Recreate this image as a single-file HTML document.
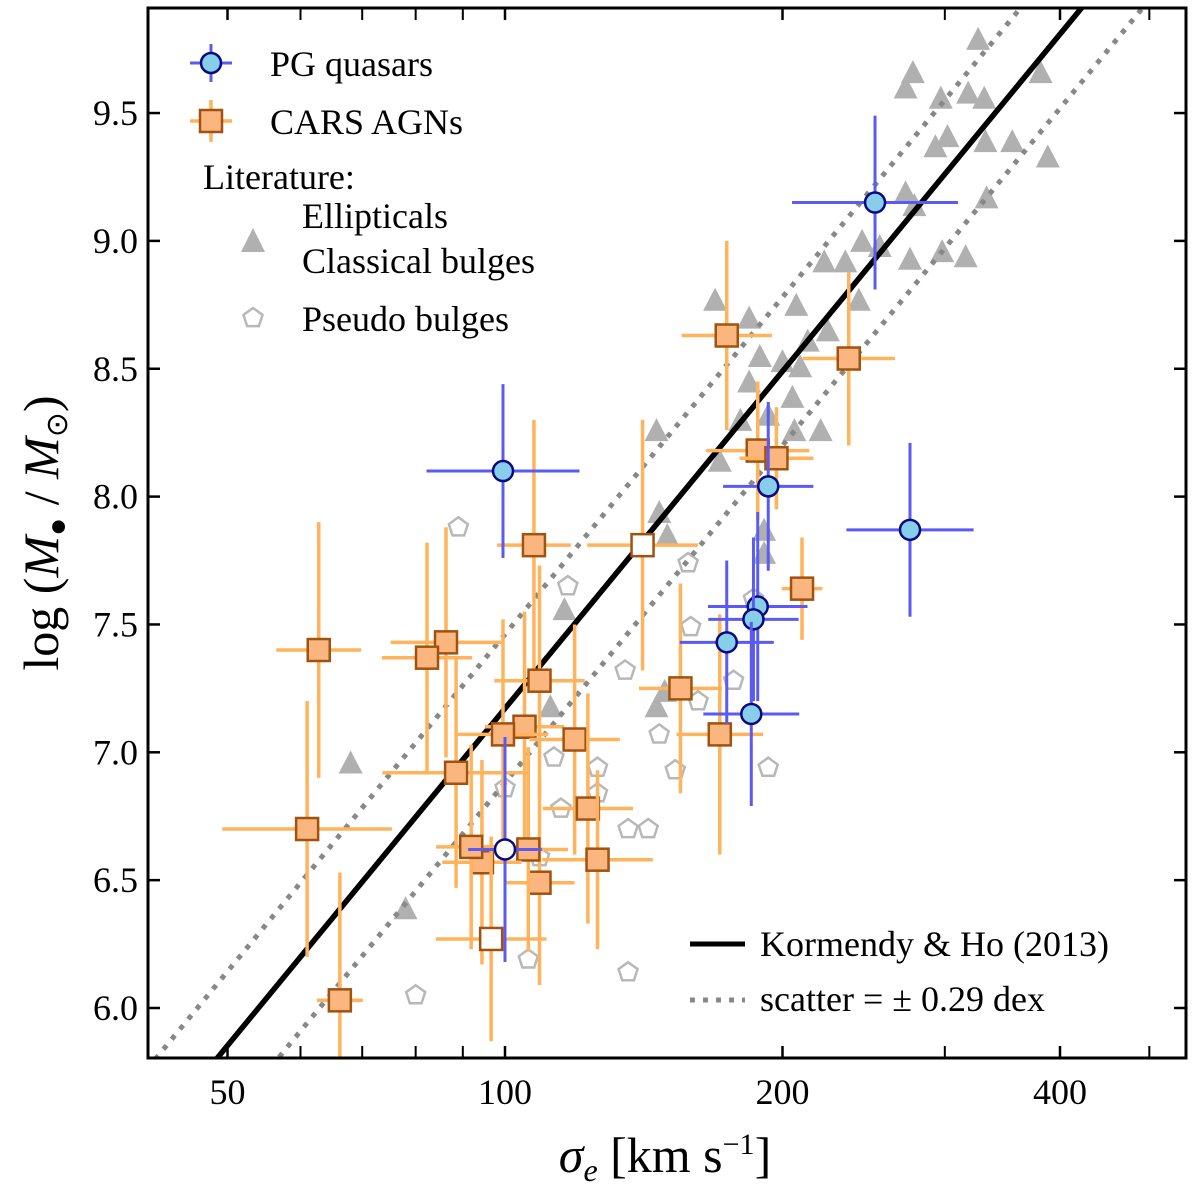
<!DOCTYPE html>
<html><head><meta charset="utf-8"><style>
html,body{margin:0;padding:0;background:#fff;width:1200px;height:1196px;overflow:hidden;}
svg{display:block;overflow:hidden;font-family:"Liberation Serif",serif;}
</style></head><body>
<svg id="chart" width="1200" height="1196" viewBox="0 0 1200 1196" xmlns="http://www.w3.org/2000/svg">
<defs><clipPath id="clip"><rect x="148" y="8" width="1038" height="1050"/></clipPath></defs>
<g id="lit" clip-path="url(#clip)"></g>
<g id="lines" clip-path="url(#clip)"></g>
<g id="cars" clip-path="url(#clip)"></g>
<g id="pg" clip-path="url(#clip)"></g>
<g id="axes"></g>
<rect x="148" y="8" width="1038" height="1050" fill="none" stroke="#000" stroke-width="3"/>

<g font-size="36">
  <g>
    <line x1="190" y1="63" x2="232" y2="63" stroke="#5a5af5" stroke-width="3"/>
    <line x1="211" y1="44" x2="211" y2="82" stroke="#5a5af5" stroke-width="3"/>
    <circle cx="211" cy="63" r="10" fill="#87ceeb" stroke="#0a0a80" stroke-width="2.5"/>
    <text x="270" y="76">PG quasars</text>
  </g>
  <g>
    <line x1="190" y1="121" x2="232" y2="121" stroke="#ffb35c" stroke-width="3.5"/>
    <line x1="211" y1="100" x2="211" y2="142" stroke="#ffb35c" stroke-width="3.5"/>
    <rect x="200" y="110" width="22" height="22" fill="#fbb680" stroke="#a0520f" stroke-width="2.5"/>
    <text x="270" y="134">CARS AGNs</text>
  </g>
  <text x="203" y="189">Literature:</text>
  <g>
    <polygon points="253,228 265,252 241,252" fill="#b0b0b0"/>
    <text x="302" y="228">Ellipticals</text>
    <text x="302" y="273">Classical bulges</text>
  </g>
  <g>
    <polygon id="legpent" fill="none" stroke="#b8b8b8" stroke-width="2.5"/>
    <text x="302" y="331">Pseudo bulges</text>
  </g>
</g>
<g font-size="36">
  <g>
    <line x1="690" y1="944" x2="745" y2="944" stroke="#000" stroke-width="5"/>
    <text x="760" y="956">Kormendy &amp; Ho (2013)</text>
  </g>
  <g>
    <line x1="690" y1="1000" x2="745" y2="1000" stroke="#888" stroke-width="5" stroke-dasharray="5,8"/>
    <text x="760" y="1011">scatter = ± 0.29 dex</text>
  </g>
</g>
<text transform="translate(58,533) rotate(-90)" text-anchor="middle" font-size="50">log (<tspan font-style="italic">M</tspan><tspan font-size="30" dy="9">●</tspan><tspan dy="-9"> / </tspan><tspan font-style="italic">M</tspan><tspan font-size="30" dy="9">⊙</tspan><tspan dy="-9">)</tspan></text>
<text x="665" y="1172" text-anchor="middle" font-size="50"><tspan font-style="italic">σ</tspan><tspan font-style="italic" font-size="32" dy="9">e</tspan><tspan dy="-9"> [km s</tspan><tspan font-size="30" dy="-18">−1</tspan><tspan dy="18">]</tspan></text>

<script>
// PG quasars
const pgSigma=[252,99.5,193,275,188,174,186,185,100];
const pgLogM=[9.15,8.10,8.04,7.87,7.57,7.43,7.52,7.15,6.62];
const pgSigErr=[0.09,0.083,0.049,0.069,0.054,0.051,0.049,0.052,0.04];
const pgMErr=[0.34,0.34,0.33,0.34,0.37,0.32,0.32,0.36,0.44];
const pgOpen=[0,0,0,0,0,0,0,0,1];
// CARS AGNs
const carsSigma=[174,236,188,197,210,107.5,141,155,171,109,105,119,99.5,123,126,109,106,94.4,91.9,96.6,88.5,86.3,82.3,62.8,61,66.2];
const carsLogM=[8.63,8.54,8.18,8.15,7.64,7.81,7.81,7.25,7.07,7.28,7.10,7.05,7.07,6.78,6.58,6.49,6.62,6.57,6.63,6.27,6.92,7.43,7.37,7.40,6.70,6.03];
const carsSigErr=[0.049,0.05,0.056,0.04,0.022,0.04,0.06,0.045,0.047,0.049,0.043,0.049,0.049,0.049,0.06,0.038,0.043,0.043,0.038,0.06,0.08,0.06,0.049,0.046,0.092,0.025];
const carsMErr=[0.37,0.34,0.27,0.2,0.2,0.49,0.49,0.41,0.47,0.45,0.45,0.45,0.45,0.45,0.35,0.4,0.4,0.4,0.4,0.4,0.45,0.45,0.45,0.5,0.5,0.5];
const carsOpen=[0,0,0,0,0,0,1,0,0,0,0,0,0,0,0,0,0,0,0,1,0,0,0,0,0,0];
// Literature ellipticals + classical bulges
const ellSigma=[326,277,272,297,318,331,381,388,293,302,332,355,272,278,333,275,298,316,222,234,244,255,242,207,224,213,200,209,189,184,169,184,180,205,206,220,193,171,191,191,147,150,146,116,112,146,149,68,78];
const ellLogM=[9.79,9.66,9.60,9.56,9.58,9.56,9.66,9.33,9.37,9.41,9.39,9.39,9.19,9.14,9.17,8.93,8.96,8.94,8.92,8.92,9.00,8.98,8.77,8.75,8.65,8.61,8.53,8.51,8.55,8.45,8.77,8.70,8.30,8.39,8.26,8.26,8.32,8.14,7.87,7.78,7.94,7.85,8.26,7.56,7.18,7.18,7.24,6.96,6.39];
// Literature pseudo bulges
const psSigma=[89,117,158,159,135,147,153,113,136,115,126,193,186,100,106,80,136,177,162,109,143,126];
const psLogM=[7.88,7.65,7.74,7.49,7.32,7.07,6.93,6.98,6.70,6.78,6.94,6.94,7.60,6.86,6.19,6.05,6.14,7.28,7.20,6.59,6.70,6.84];
// KH13 relation
const khNorm=[8.49]; const khSlope=[4.38]; const khScatter=[0.29];
const xTicksMajor=[50,100,200,400];
const xTicksMinor=[60,70,80,90,300,500];
const yTicks=[6.0,6.5,7.0,7.5,8.0,8.5,9.0,9.5];

const NS='http://www.w3.org/2000/svg';
function X(s){return 505+277.5*Math.log2(s/100);}
function Y(m){return 1008-255.7*(m-6);}
function mk(tag,attrs,parent){const e=document.createElementNS(NS,tag);for(const k in attrs)e.setAttribute(k,attrs[k]);parent.appendChild(e);return e;}
function pent(cx,cy,r){let p=[];for(let i=0;i<5;i++){const a=-Math.PI/2+i*2*Math.PI/5;p.push((cx+r*Math.cos(a)).toFixed(1)+','+(cy+r*Math.sin(a)).toFixed(1));}return p.join(' ');}
document.getElementById('legpent').setAttribute('points',pent(253,318,10));

const lit=document.getElementById('lit');
ellSigma.forEach((s,i)=>{const x=X(s),y=Y(ellLogM[i]);
 const e=mk('polygon',{points:`${x},${y-12} ${x+12},${y+11} ${x-12},${y+11}`,fill:'#b0b0b0'},lit);
 
 });
psSigma.forEach((s,i)=>{const e=mk('polygon',{points:pent(X(s),Y(psLogM[i]),10),fill:'none',stroke:'#b8b8b8','stroke-width':2.5},lit);
 
 });

const lines=document.getElementById('lines');
function rel(s,off){return khNorm[0]+khSlope[0]*Math.log10(s/200)+off;}
[[0,'#000',5.5,null,'kh13-line'],[khScatter[0],'#888',5,'5,8','scatter-upper-line'],[-khScatter[0],'#888',5,'5,8','scatter-lower-line']].forEach(c=>{
 const a={x1:X(30),y1:Y(rel(30,c[0])),x2:X(700),y2:Y(rel(700,c[0])),stroke:c[1],'stroke-width':c[2]};
 if(c[3])a['stroke-dasharray']=c[3];
 const e=mk('line',a,lines);
 
 });

const cars=document.getElementById('cars');
carsSigma.forEach((s,i)=>{const m=carsLogM[i],f=Math.pow(10,carsSigErr[i]);
 const g=mk('g',{},cars);
 
 
 mk('line',{x1:X(s/f),y1:Y(m),x2:X(s*f),y2:Y(m),stroke:'#ffb35c','stroke-width':3.5},g);
 mk('line',{x1:X(s),y1:Y(m-carsMErr[i]),x2:X(s),y2:Y(m+carsMErr[i]),stroke:'#ffb35c','stroke-width':3.5},g);
 mk('rect',{x:X(s)-11,y:Y(m)-11,width:22,height:22,fill:carsOpen[i]?'#fff':'#fbb680',stroke:'#a0520f','stroke-width':2.5},g);});

const pg=document.getElementById('pg');
pgSigma.forEach((s,i)=>{const m=pgLogM[i],f=Math.pow(10,pgSigErr[i]);
 const g=mk('g',{},pg);
 
 
 mk('line',{x1:X(s/f),y1:Y(m),x2:X(s*f),y2:Y(m),stroke:'#5a5af5','stroke-width':3},g);
 mk('line',{x1:X(s),y1:Y(m-pgMErr[i]),x2:X(s),y2:Y(m+pgMErr[i]),stroke:'#5a5af5','stroke-width':3},g);
 mk('circle',{cx:X(s),cy:Y(m),r:10,fill:pgOpen[i]?'#fff':'#87ceeb',stroke:'#0a0a80','stroke-width':2.5},g);});

const ax=document.getElementById('axes');
xTicksMajor.forEach(v=>{const x=X(v);
 mk('line',{x1:x,y1:1058,x2:x,y2:1046,stroke:'#000','stroke-width':2.5},ax);
 mk('line',{x1:x,y1:8,x2:x,y2:20,stroke:'#000','stroke-width':2.5},ax);
 const t=mk('text',{x:x,y:1104,'text-anchor':'middle','font-size':36},ax);t.textContent=v;
 
 });
xTicksMinor.forEach(v=>{const x=X(v);
 mk('line',{x1:x,y1:1058,x2:x,y2:1046,stroke:'#000','stroke-width':2},ax);
 mk('line',{x1:x,y1:8,x2:x,y2:20,stroke:'#000','stroke-width':2},ax);});
yTicks.forEach(v=>{const y=Y(v);
 mk('line',{x1:148,y1:y,x2:160,y2:y,stroke:'#000','stroke-width':2.5},ax);
 mk('line',{x1:1186,y1:y,x2:1174,y2:y,stroke:'#000','stroke-width':2.5},ax);
 const t=mk('text',{x:138,y:y+12,'text-anchor':'end','font-size':36},ax);t.textContent=v.toFixed(1);
 
 });
</script>
</svg>
</body></html>
